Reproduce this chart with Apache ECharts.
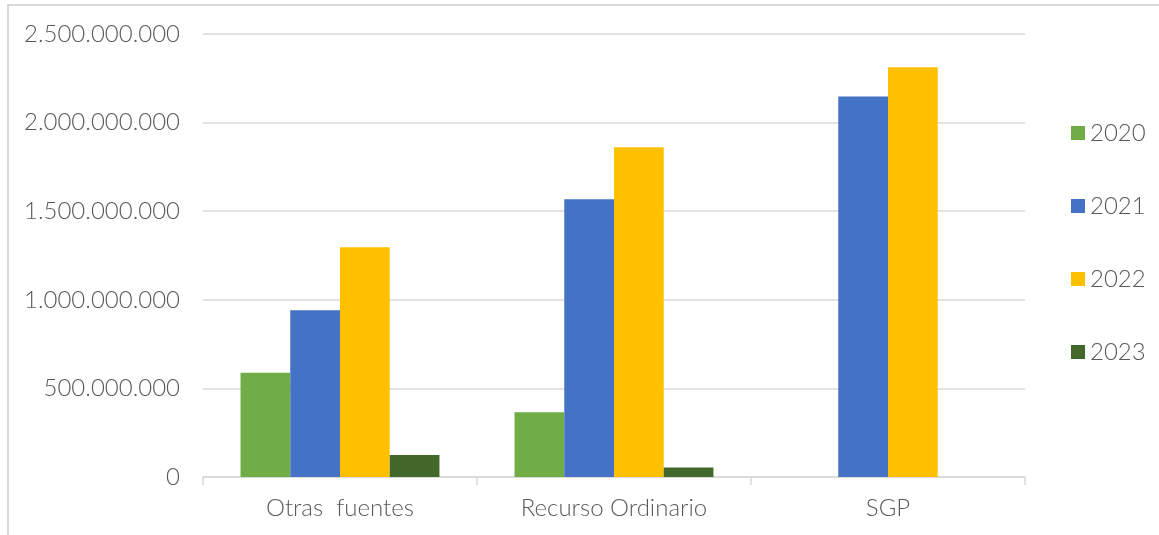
<!DOCTYPE html>
<html>
<head>
<meta charset="utf-8">
<script src="https://cdn.jsdelivr.net/npm/echarts@6/dist/echarts.min.js"></script>
<style>
html,body{margin:0;padding:0;background:#fff;}
#chart{width:1159px;height:535px;}
</style>
</head>
<body>
<div id="chart"></div>
<script>
const categories = ['Otras  fuentes', 'Recurso Ordinario', 'SGP'];
const seriesNames = ['2020', '2021', '2022', '2023'];
const values2020 = [589000000, 365000000, null];
const values2021 = [941000000, 1567000000, 2147000000];
const values2022 = [1296000000, 1861000000, 2312000000];
const values2023 = [124000000, 53000000, null];
const seriesColors = ['#70AD47', '#4472C4', '#FFC000', '#43682B'];
const yTicks = [0, 500000000, 1000000000, 1500000000, 2000000000, 2500000000];

const allValues = [values2020, values2021, values2022, values2023];
const FONT = 'Lato';
const TXT = '#595959';

function fmt(v) {
  return String(Math.round(v)).replace(/\B(?=(\d{3})+(?!\d))/g, '.');
}

const chart = echarts.init(document.getElementById('chart'), null, {renderer: 'canvas'});
chart.setOption({
  animation: false,
  backgroundColor: '#fff',
  textStyle: {fontFamily: FONT},
  graphic: [{
    type: 'rect',
    shape: {x: 8, y: 5, width: 1200, height: 600},
    style: {fill: 'none', stroke: '#d9d9d9', lineWidth: 2},
    silent: true
  }],
  grid: {left: 203, right: 134, top: 34, bottom: 58, containLabel: false},
  legend: {
    orient: 'vertical',
    left: 1071,
    top: 121,
    padding: 0,
    itemWidth: 14,
    itemHeight: 14,
    itemGap: 49,
    icon: 'rect',
    data: seriesNames,
    textStyle: {color: TXT, fontSize: 24, fontWeight: 300, fontFamily: FONT, lineHeight: 24}
  },
  xAxis: {
    type: 'category',
    data: categories,
    axisLine: {show: true, lineStyle: {color: '#d9d9d9', width: 1.5}},
    axisTick: {show: true, length: 8, lineStyle: {color: '#d9d9d9', width: 1.5}},
    axisLabel: {color: TXT, fontSize: 24, fontWeight: 300, fontFamily: FONT, margin: 19, lineHeight: 24},
    splitLine: {show: false}
  },
  yAxis: {
    type: 'value',
    min: yTicks[0],
    max: yTicks[yTicks.length - 1],
    interval: yTicks[1] - yTicks[0],
    axisLine: {show: false},
    axisTick: {show: false},
    axisLabel: {color: TXT, fontSize: 24, fontWeight: 300, fontFamily: FONT, margin: 23, formatter: fmt},
    splitLine: {show: true, lineStyle: {color: '#d9d9d9', width: 1.5}}
  },
  series: seriesNames.map((name, i) => ({
    name: name,
    type: 'bar',
    data: allValues[i],
    barGap: '0%',
    barCategoryGap: '27.4%',
    itemStyle: {color: seriesColors[i]}
  }))
});
</script>
</body>
</html>
